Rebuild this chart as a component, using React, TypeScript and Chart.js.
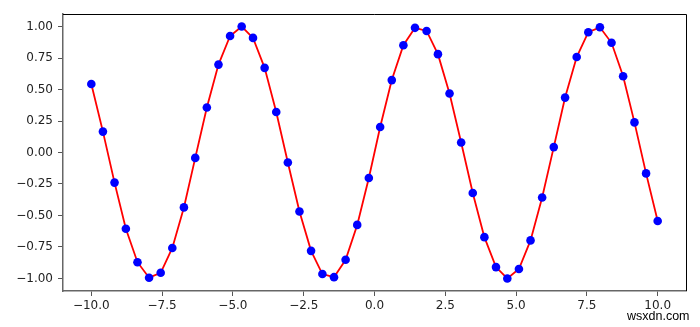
import React, { useEffect, useRef } from "react";
import { Chart, registerables } from "chart.js";

Chart.register(...registerables);

const xValues = [
  -10.0, -9.59, -9.18, -8.78, -8.37, -7.96, -7.55, -7.14, -6.73, -6.33,
  -5.92, -5.51, -5.1, -4.69, -4.29, -3.88, -3.47, -3.06, -2.65, -2.24,
  -1.84, -1.43, -1.02, -0.61, -0.2, 0.2, 0.61, 1.02, 1.43, 1.84,
  2.24, 2.65, 3.06, 3.47, 3.88, 4.29, 4.69, 5.1, 5.51, 5.92,
  6.33, 6.73, 7.14, 7.55, 7.96, 8.37, 8.78, 9.18, 9.59, 10.0,
];
const yValues = [
  0.544, 0.166, -0.239, -0.605, -0.871, -0.994, -0.955, -0.758, -0.436, -0.043,
  0.357, 0.698, 0.925, 1.0, 0.91, 0.672, 0.322, -0.08, -0.469, -0.781,
  -0.965, -0.99, -0.852, -0.575, -0.203, 0.203, 0.575, 0.852, 0.99, 0.965,
  0.781, 0.469, 0.08, -0.322, -0.672, -0.91, -1.0, -0.925, -0.698, -0.357,
  0.043, 0.436, 0.758, 0.955, 0.994, 0.871, 0.605, 0.239, -0.166, -0.544,
];
const xTicks = [-10, -7.5, -5, -2.5, 0, 2.5, 5, 7.5, 10];
const yTicks = [-1, -0.75, -0.5, -0.25, 0, 0.25, 0.5, 0.75, 1];

const fmt = (v: number, d: number) => v.toFixed(d).replace("-", "\u2212");

const framePlugin = {
  id: "frame",
  afterDraw(chart: any) {
    const { ctx, chartArea: a } = chart;
    ctx.save();
    ctx.strokeStyle = "#000";
    ctx.lineWidth = 1;
    ctx.beginPath();
    ctx.moveTo(a.left, a.top + 0.5);
    ctx.lineTo(a.right + 0.5, a.top + 0.5);
    ctx.lineTo(a.right + 0.5, a.bottom);
    ctx.stroke();
    ctx.restore();
  },
};

export default function App() {
  const ref = useRef<HTMLCanvasElement>(null);
  useEffect(() => {
    document.body.style.margin = "0";
    const data = xValues.map((x, i) => ({ x, y: yValues[i] }));
    const tickFont = { family: "DejaVu Sans", size: 12 };
    const chart = new Chart(ref.current!, {
      type: "line",
      data: {
        datasets: [
          {
            data,
            borderColor: "#ff0000",
            borderWidth: 1.8,
            pointBackgroundColor: "#0000ff",
            pointBorderColor: "#0000ff",
            pointRadius: 4.3,
            pointBorderWidth: 0,
            tension: 0,
          },
        ],
      },
      options: {
        animation: false,
        responsive: false,
        events: [],
        layout: { padding: { top: 14, right: 14, left: 0, bottom: 0 } },
        plugins: { legend: { display: false }, tooltip: { enabled: false } },
        scales: {
          x: {
            type: "linear",
            min: -11,
            max: 11,
            afterBuildTicks: (s: any) => {
              s.ticks = xTicks.map((v) => ({ value: v }));
            },
            afterFit: (s: any) => {
              s.height = 36;
            },
            ticks: {
              callback: (v: any) => fmt(Number(v), 1),
              font: tickFont,
              color: "#222",
              padding: 3,
              maxRotation: 0,
              autoSkip: false,
            },
            grid: {
              drawOnChartArea: false,
              drawTicks: true,
              tickLength: 5,
              color: "#555",
            },
            border: { display: true, color: "#666", width: 1.5 },
          },
          y: {
            type: "linear",
            min: -1.0998,
            max: 1.0998,
            afterBuildTicks: (s: any) => {
              s.ticks = yTicks.map((v) => ({ value: v }));
            },
            afterFit: (s: any) => {
              s.width = 63;
            },
            ticks: {
              callback: (v: any) => fmt(Number(v), 2),
              font: tickFont,
              color: "#222",
              padding: 5,
              autoSkip: false,
            },
            grid: {
              drawOnChartArea: false,
              drawTicks: true,
              tickLength: 5,
              color: "#555",
            },
            border: { display: true, color: "#666", width: 1.5 },
          },
        },
      },
      plugins: [framePlugin],
    } as any);
    return () => chart.destroy();
  }, []);
  return (
    <div style={{ position: "relative", width: 700, height: 327, background: "#fff" }}>
      <canvas ref={ref} width={700} height={327} style={{ display: "block" }} />
      <div
        style={{
          position: "absolute",
          left: 627,
          top: 308,
          fontFamily: "Liberation Sans",
          fontSize: 12.5,
          color: "#000",
          lineHeight: "16px",
        }}
      >
        wsxdn.com
      </div>
    </div>
  );
}
